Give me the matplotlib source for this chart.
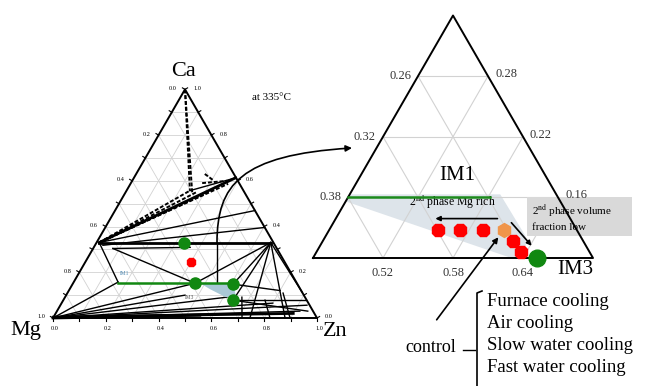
"""Mg-Ca-Zn isothermal section with an enlarged view of the IM1-IM3 corner"""

import numpy as np
import matplotlib.pyplot as plt
from matplotlib.patches import Polygon, FancyArrowPatch
from matplotlib.path import Path

plt.rcParams['font.family'] = ['Liberation Serif', 'DejaVu Serif']
plt.rcParams['mathtext.fontset'] = 'stix'

H = np.sqrt(3) / 2

# ---- full section, compositions given as (Zn, Ca) mole fractions ----
tick_values = np.round(np.arange(0.0, 1.01, 0.2), 1)

thick_lines = [((0.01, 0.33), (0.66, 0.33)),
               ((0.01, 0.33), (0.385, 0.613)),
               ((0.0, 0.0), (0.55, 0.012)),
               ((0.0, 0.004), (0.90, 0.02))]
thin_lines = [((0.075, 0.304), (0.365, 0.309)),
              ((0.01, 0.33), (0.168, 0.157)),
              ((0.075, 0.304), (0.462, 0.152)),
              ((0.168, 0.157), (0.0, 0.0)),
              ((0.01, 0.33), (0.53, 0.47)),
              ((0.03, 0.318), (0.604, 0.396)),
              ((0.24, 0.557), (0.385, 0.613)),
              ((0.458, 0.326), (0.545, 0.152)),
              ((0.66, 0.33), (0.462, 0.152)),
              ((0.66, 0.33), (0.608, 0.148)),
              ((0.66, 0.33), (0.643, 0.078)),
              ((0.66, 0.33), (0.746, 0.0)),
              ((0.66, 0.33), (0.879, 0.0)),
              ((0.66, 0.33), (0.885, 0.115)),
              ((0.0, 0.0), (0.462, 0.152)),
              ((0.0, 0.0), (0.45, 0.10)),
              ((0.0, 0.0), (0.613, 0.091)),
              ((0.0, 0.0), (0.80, 0.065)),
              ((0.0, 0.0), (0.934, 0.056)),
              ((0.0, 0.0), (0.92, 0.03)),
              ((0.643, 0.078), (0.92, 0.078)),
              ((0.643, 0.078), (0.95, 0.03)),
              ((0.608, 0.148), (0.80, 0.12)),
              ((0.67, 0.091), (0.716, 0.0)),
              ((0.764, 0.078), (0.822, 0.0)),
              ((0.817, 0.109), (0.898, 0.0))]
dashed_lines = [((0.01, 0.33), (0.24, 0.557)),
                ((0.01, 0.33), (0.27, 0.552)),
                ((0.01, 0.33), (0.304, 0.543)),
                ((0.01, 0.33), (0.33, 0.565)),
                ((0.01, 0.33), (0.37, 0.587)),
                ((0.0, 1.0), (0.24, 0.557)),
                ((0.0, 1.0), (0.255, 0.545)),
                ((0.26, 0.63), (0.31, 0.60)),
                ((0.27, 0.59), (0.36, 0.60))]

im1_line = [(0.168, 0.155), (0.60, 0.155)]
im_region = [(0.481, 0.152), (0.608, 0.148), (0.645, 0.096),
             (0.609, 0.091), (0.532, 0.126)]
green_zn = [0.33, 0.462, 0.608, 0.643]
green_ca = [0.33, 0.152, 0.148, 0.078]
red_zn, red_ca = [0.40], [0.243]

# ---- enlarged corner: Zn 0.46-0.70, Ca 0.10-0.34 ----
zoom_zn0, zoom_ca0, zoom_span = 0.46, 0.10, 0.24
zoom_bottom = ['0.52', '0.58', '0.64']
zoom_left = ['0.38', '0.32', '0.26']
zoom_right = ['0.16', '0.22', '0.28']

zoom_im1 = [(0.46, 0.16), (0.582, 0.16)]
zoom_region = [(0.46, 0.163), (0.589, 0.163), (0.631, 0.122),
               (0.643, 0.10), (0.630, 0.10), (0.46, 0.156)]
cooled_zn = [0.553, 0.572, 0.592, 0.623, 0.635]
cooled_ca = [0.128, 0.128, 0.128, 0.117, 0.106]
control_zn, control_ca = [0.610], [0.128]
im3_zn, im3_ca = [0.652], [0.100]

cooling = ['Furnace cooling', 'Air cooling', 'Slow water cooling', 'Fast water cooling']


def full_xy(zn, ca):
    zn, ca = np.asarray(zn, float), np.asarray(ca, float)
    return 53 + 264 * (zn + ca / 2), 318 - 264 * H * ca


def zoom_xy(zn, ca):
    v = (np.asarray(zn, float) - zoom_zn0) / zoom_span
    u = (np.asarray(ca, float) - zoom_ca0) / zoom_span
    return 313 + 280 * (v + u / 2), 258 - 280 * H * u


def seg(ax, f, a, b, **kw):
    x, y = f([a[0], b[0]], [a[1], b[1]])
    ax.plot(x, y, **kw)


fig = plt.figure(figsize=(6.5, 3.86), dpi=100)
ax = fig.add_axes([0, 0, 1, 1])
ax.set_xlim(0, 650)
ax.set_ylim(386, 0)
ax.axis('off')

grey = '#d2d2d2'

# full section: grid, ticks, frame
for k in np.arange(0.1, 0.95, 0.1):
    seg(ax, full_xy, (0, k), (1 - k, k), color=grey, lw=0.6, zorder=1)
    seg(ax, full_xy, (k, 0), (k, 1 - k), color=grey, lw=0.6, zorder=1)
    seg(ax, full_xy, (1 - k, 0), (0, 1 - k), color=grey, lw=0.6, zorder=1)

for k in np.arange(0.0, 1.01, 0.1):
    x, y = full_xy(k, 0)
    ax.plot([x, x], [y, y + 3], color='k', lw=0.8)
    x, y = full_xy(0, k)
    ax.plot([x, x - 2.6], [y, y - 1.5], color='k', lw=0.8)
    x, y = full_xy(1 - k, k)
    ax.plot([x, x + 2.6], [y, y - 1.5], color='k', lw=0.8)

fx, fy = full_xy([0, 1, 0, 0], [0, 0, 1, 0])
ax.plot(fx, fy, color='k', lw=1.4, zorder=4)

for v in tick_values:
    x, y = full_xy(v, 0)
    ax.text(x + 2, y + 10, f'{v:.1f}', fontsize=4.5, ha='center', va='center')
    x, y = full_xy(0, 1 - v)
    ax.text(x - 12, y - 1, f'{v:.1f}', fontsize=4.5, ha='center', va='center')
    x, y = full_xy(1 - v, v)
    ax.text(x + 12, y - 1, f'{v:.1f}', fontsize=4.5, ha='center', va='center')

for a, b in thin_lines:
    seg(ax, full_xy, a, b, color='k', lw=1.0, zorder=3)
for a, b in thick_lines:
    seg(ax, full_xy, a, b, color='k', lw=2.0, zorder=3)
for a, b in dashed_lines:
    seg(ax, full_xy, a, b, color='k', lw=1.4, ls=(0, (2, 1)), zorder=3)

px, py = full_xy(*np.array(im_region).T)
ax.add_patch(Polygon(np.c_[px, py], closed=True, fc='#a9c8d6', ec='none', zorder=3))
seg(ax, full_xy, *im1_line, color='#118811', lw=1.8, zorder=4)
gx, gy = full_xy(green_zn, green_ca)
ax.plot(gx, gy, ls='none', marker='o', ms=8, color='#118811', zorder=5)
rx, ry = full_xy(red_zn, red_ca)
ax.plot(rx, ry, ls='none', marker='8', ms=7, color='#ff0000', zorder=5)
ax.text(120, 275, 'IM1', fontsize=4, color='#4a86b0')
ax.text(185, 299, 'IM3', fontsize=4, color='#555555')

ax.text(183, 71, 'Ca', fontsize=16, ha='center', va='center')
ax.text(26, 330, 'Mg', fontsize=16, ha='center', va='center')
ax.text(335, 331, 'Zn', fontsize=16, ha='center', va='center')
ax.text(271, 97, 'at 335°C', fontsize=8, ha='center', va='center')

# curved pointer from the corner region to the enlarged view
curve = Path([(217, 243), (217, 185), (240, 155), (352, 148)],
             [Path.MOVETO, Path.CURVE4, Path.CURVE4, Path.CURVE4])
ax.add_patch(FancyArrowPatch(path=curve, arrowstyle='-|>', mutation_scale=9,
                             color='k', lw=1.2, zorder=6))

# enlarged view: grid and frame
for k in (0.25, 0.5, 0.75):
    s = zoom_span * k
    seg(ax, zoom_xy, (zoom_zn0, zoom_ca0 + s), (zoom_zn0 + zoom_span - s, zoom_ca0 + s),
        color=grey, lw=0.8, zorder=2)
    seg(ax, zoom_xy, (zoom_zn0 + s, zoom_ca0), (zoom_zn0 + s, zoom_ca0 + zoom_span - s),
        color=grey, lw=0.8, zorder=2)
    seg(ax, zoom_xy, (zoom_zn0 + zoom_span - s, zoom_ca0), (zoom_zn0, zoom_ca0 + zoom_span - s),
        color=grey, lw=0.8, zorder=2)

px, py = zoom_xy(*np.array(zoom_region).T)
ax.add_patch(Polygon(np.c_[px, py], closed=True, fc='#dde4ea', ec='none', zorder=1))

zx, zy = zoom_xy([zoom_zn0, zoom_zn0 + zoom_span, zoom_zn0, zoom_zn0],
                 [zoom_ca0, zoom_ca0, zoom_ca0 + zoom_span, zoom_ca0])
ax.plot(zx, zy, color='k', lw=1.4, zorder=4)

for i, lab in enumerate(zoom_bottom):
    x, y = zoom_xy(zoom_zn0 + zoom_span * (i + 1) / 4, zoom_ca0)
    ax.text(x, y + 15, lab, fontsize=9, ha='center', va='center', color='#333333')
for i, lab in enumerate(zoom_left):
    x, y = zoom_xy(zoom_zn0, zoom_ca0 + zoom_span * (i + 1) / 4)
    ax.text(x - 18, y, lab, fontsize=9, ha='center', va='center', color='#333333')
for i, lab in enumerate(zoom_right):
    x, y = zoom_xy(zoom_zn0 + zoom_span * (3 - i) / 4, zoom_ca0 + zoom_span * (i + 1) / 4)
    ax.text(x + 18, y - 2, lab, fontsize=9, ha='center', va='center', color='#333333', zorder=5)

seg(ax, zoom_xy, *zoom_im1, color='#1c8a1c', lw=1.8, zorder=4)
ax.text(457, 176, 'IM1', fontsize=15, ha='center', va='center')
ax.text(575, 270, 'IM3', fontsize=15, ha='center', va='center')
ax.text(452, 201, r'2$^{\mathrm{nd}}$ phase Mg rich', fontsize=8.5, ha='center', va='center')

ax.add_patch(plt.Rectangle((527, 197), 105, 39, fc='#d9d9d9', ec='none', zorder=3))
ax.text(532, 211, r'2$^{\mathrm{nd}}$ phase volume', fontsize=8, va='center', zorder=4)
ax.text(532, 227, 'fraction low', fontsize=8, va='center', zorder=4)

ax.annotate('', xy=zoom_xy(0.543, 0.139), xytext=zoom_xy(0.601, 0.139),
            arrowprops=dict(arrowstyle='-|>', color='k', lw=1.2, mutation_scale=7), zorder=6)
ax.annotate('', xy=zoom_xy(0.644, 0.110), xytext=zoom_xy(0.610, 0.137),
            arrowprops=dict(arrowstyle='-|>', color='k', lw=1.2, mutation_scale=7), zorder=6)

cx, cy = zoom_xy(cooled_zn, cooled_ca)
ax.plot(cx, cy, ls='none', marker='8', ms=10, color='#ff0000', zorder=5)
ox, oy = zoom_xy(control_zn, control_ca)
ax.plot(ox, oy, ls='none', marker='h', ms=10, color='#f0954a', zorder=5)
ix, iy = zoom_xy(im3_zn, im3_ca)
ax.plot(ix, iy, ls='none', marker='o', ms=12, color='#118811', zorder=5)

# control sample and the cooling routes
ax.annotate('', xy=(500, 235), xytext=(435, 322),
            arrowprops=dict(arrowstyle='-|>', color='k', lw=1.2, mutation_scale=8), zorder=6)
ax.text(431, 347, 'control', fontsize=13, ha='center', va='center')
ax.plot([463, 475], [350, 350], color='k', lw=1.0)
ax.plot([482, 477, 477], [291, 293, 390], color='k', lw=1.2, clip_on=False)
for i, name in enumerate(cooling):
    ax.text(487, 302 + 21.7 * i, name, fontsize=13.5, va='center')

fig.savefig('out.png', dpi=100)
